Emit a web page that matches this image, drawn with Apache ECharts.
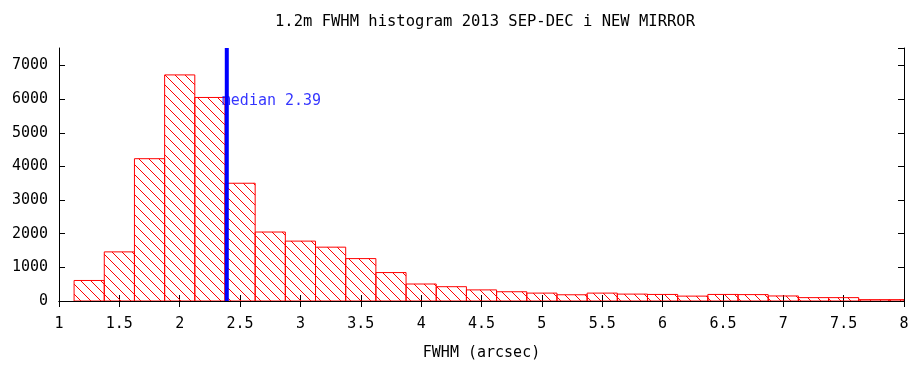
<!DOCTYPE html>
<html>
<head>
<meta charset="utf-8">
<title>1.2m FWHM histogram</title>
<script src="https://cdn.jsdelivr.net/npm/echarts@6/dist/echarts.min.js"></script>
<style>
  html, body { margin: 0; padding: 0; background: #ffffff; }
  #chart { width: 915px; height: 367px; }
</style>
</head>
<body>
<div id="chart"></div>
<script>
// Histogram bins (centre of each bin, arcsec) and the number of frames in each
const binCenters = [1.25, 1.5, 1.75, 2.0, 2.25, 2.5, 2.75, 3.0, 3.25, 3.5, 3.75, 4.0,
                    4.25, 4.5, 4.75, 5.0, 5.25, 5.5, 5.75, 6.0, 6.25, 6.5, 6.75, 7.0,
                    7.25, 7.5, 7.75, 8.0];
const counts = [610, 1460, 4230, 6720, 6050, 3500, 2050, 1780, 1600, 1260, 845, 505,
                425, 330, 275, 235, 185, 235, 205, 195, 145, 195, 190, 150,
                100, 100, 40, 40];
const BIN_WIDTH = 0.25;
const MEDIAN = 2.39;
const MEDIAN_LABEL_Y = 6000;

// Axis ranges and tick steps
const X_MIN = 1, X_MAX = 8, X_STEP = 0.5;
const Y_MIN = 0, Y_MAX = 7520, Y_STEP = 1000;

const TITLE = '1.2m FWHM histogram 2013 SEP-DEC i NEW MIRROR';
const X_NAME = 'FWHM (arcsec)';

const FONT = '"DejaVu Sans Mono", "Liberation Mono", monospace';

// Diagonal red hatch used to fill the boxes
function makeHatch() {
  const c = document.createElement('canvas');
  c.width = 10; c.height = 10;
  const ctx = c.getContext('2d');
  ctx.strokeStyle = '#ff0000';
  ctx.lineWidth = 1;
  ctx.beginPath();
  ctx.moveTo(-1, -1); ctx.lineTo(11, 11);
  ctx.moveTo(-11, -1); ctx.lineTo(1, 11);
  ctx.moveTo(9, -1); ctx.lineTo(21, 11);
  ctx.stroke();
  return { image: c, repeat: 'repeat' };
}
const hatch = makeHatch();

const histData = binCenters.map((c, i) => [c, counts[i]]);

const chart = echarts.init(document.getElementById('chart'), null, { renderer: 'canvas' });

const axisLineStyle = { show: true, lineStyle: { color: '#000000', width: 1 } };
const tickStyle = { show: true, inside: true, length: 6, lineStyle: { color: '#000000', width: 1 } };
const plainNumber = v => String(v);

chart.setOption({
  animation: false,
  backgroundColor: '#ffffff',
  title: {
    text: TITLE,
    left: 480,
    textAlign: 'center',
    top: 9,
    textStyle: { fontFamily: FONT, fontSize: 15.5, fontWeight: 'normal', color: '#000000' }
  },
  grid: { left: 59, right: 11, top: 48, bottom: 66, containLabel: false },
  xAxis: [
    {
      type: 'value', min: X_MIN, max: X_MAX, interval: X_STEP, position: 'bottom',
      axisLine: axisLineStyle, axisTick: tickStyle, splitLine: { show: false },
      axisLabel: { color: '#000000', fontFamily: FONT, fontSize: 15, margin: 16, formatter: plainNumber },
      name: X_NAME, nameLocation: 'middle', nameGap: 45,
      nameTextStyle: { color: '#000000', fontFamily: FONT, fontSize: 15 }
    },
    {
      type: 'value', min: X_MIN, max: X_MAX, interval: X_STEP, position: 'top',
      axisLine: axisLineStyle, axisTick: tickStyle, splitLine: { show: false },
      axisLabel: { show: false }
    }
  ],
  yAxis: [
    {
      type: 'value', min: Y_MIN, max: Y_MAX, interval: Y_STEP, position: 'left',
      axisLine: axisLineStyle, axisTick: tickStyle, splitLine: { show: false },
      axisLabel: { color: '#000000', fontFamily: FONT, fontSize: 15, margin: 11,
                   showMaxLabel: false, formatter: plainNumber }
    },
    {
      type: 'value', min: Y_MIN, max: Y_MAX, interval: Y_STEP, position: 'right',
      axisLine: axisLineStyle, axisTick: tickStyle, splitLine: { show: false },
      axisLabel: { show: false }
    }
  ],
  series: [
    {
      // hatched histogram boxes, each BIN_WIDTH wide and centred on its bin
      type: 'custom',
      xAxisIndex: 0, yAxisIndex: 0,
      data: histData,
      clip: true,
      z: 2,
      renderItem: function (params, api) {
        const c = api.value(0);
        const v = api.value(1);
        const p0 = api.coord([c - BIN_WIDTH / 2, v]);
        const p1 = api.coord([c + BIN_WIDTH / 2, 0]);
        const cs = params.coordSys;
        const shape = echarts.graphic.clipRectByRect(
          { x: p0[0], y: p0[1], width: p1[0] - p0[0], height: p1[1] - p0[1] },
          { x: cs.x, y: cs.y, width: cs.width, height: cs.height }
        );
        if (!shape) return null;
        return {
          type: 'rect',
          shape: shape,
          style: { fill: hatch, stroke: '#ff0000', lineWidth: 1 }
        };
      }
    },
    {
      // text beside the median marker
      type: 'scatter',
      xAxisIndex: 0, yAxisIndex: 0,
      data: [[MEDIAN, MEDIAN_LABEL_Y]],
      symbolSize: 0,
      silent: true,
      z: 3,
      label: {
        show: true,
        position: 'right',
        distance: 0,
        offset: [-5, 2],
        formatter: 'median ' + MEDIAN,
        color: '#0000ff',
        fontFamily: FONT,
        fontSize: 15
      }
    },
    {
      // vertical median marker spanning the full height of the plot
      type: 'line',
      xAxisIndex: 0, yAxisIndex: 0,
      data: [[MEDIAN, Y_MIN], [MEDIAN, Y_MAX]],
      showSymbol: false,
      symbol: 'none',
      silent: true,
      z: 4,
      lineStyle: { color: '#0000ff', width: 4 }
    }
  ]
});
</script>
</body>
</html>
